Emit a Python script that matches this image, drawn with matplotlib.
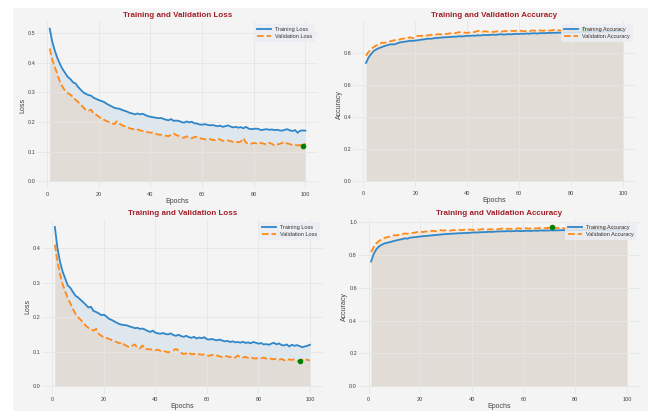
import matplotlib
matplotlib.use("Agg")
import matplotlib.pyplot as plt
from matplotlib.patches import Rectangle

plt.rcParams['font.family'] = ['Liberation Sans', 'DejaVu Sans']

epochs = list(range(1, 101))

train_loss_1 = [
    0.515, 0.470, 0.440, 0.415, 0.395, 0.378, 0.365, 0.352, 0.345, 0.334,
    0.330, 0.318, 0.309, 0.300, 0.295, 0.291, 0.289, 0.282, 0.278, 0.274,
    0.271, 0.268, 0.262, 0.257, 0.253, 0.248, 0.246, 0.245, 0.241, 0.238,
    0.235, 0.231, 0.229, 0.226, 0.229, 0.226, 0.228, 0.224, 0.220, 0.218,
    0.216, 0.215, 0.213, 0.214, 0.211, 0.208, 0.206, 0.210, 0.204, 0.205,
    0.204, 0.200, 0.198, 0.202, 0.199, 0.201, 0.196, 0.195, 0.192, 0.191,
    0.193, 0.191, 0.189, 0.190, 0.188, 0.186, 0.188, 0.184, 0.186, 0.189,
    0.185, 0.182, 0.184, 0.181, 0.183, 0.179, 0.184, 0.178, 0.176, 0.177,
    0.178, 0.176, 0.173, 0.175, 0.176, 0.174, 0.175, 0.173, 0.174, 0.172,
    0.171, 0.174, 0.176, 0.172, 0.170, 0.173, 0.164, 0.171, 0.172, 0.171]
val_loss_1 = [
    0.448, 0.410, 0.385, 0.360, 0.335, 0.318, 0.305, 0.298, 0.292, 0.285,
    0.275, 0.268, 0.259, 0.250, 0.240, 0.238, 0.242, 0.228, 0.225, 0.218,
    0.212, 0.208, 0.203, 0.200, 0.196, 0.193, 0.203, 0.195, 0.189, 0.186,
    0.183, 0.179, 0.176, 0.178, 0.175, 0.172, 0.170, 0.168, 0.166, 0.164,
    0.165, 0.161, 0.158, 0.157, 0.155, 0.154, 0.152, 0.158, 0.162, 0.156,
    0.153, 0.149, 0.147, 0.152, 0.148, 0.145, 0.150, 0.149, 0.146, 0.144,
    0.142, 0.141, 0.143, 0.140, 0.139, 0.144, 0.141, 0.137, 0.135, 0.138,
    0.136, 0.133, 0.135, 0.132, 0.134, 0.146, 0.131, 0.126, 0.127, 0.130,
    0.128, 0.131, 0.129, 0.127, 0.124, 0.130, 0.127, 0.121, 0.125, 0.126,
    0.130, 0.132, 0.128, 0.126, 0.122, 0.124, 0.121, 0.123, 0.118, 0.128]

train_acc_1 = [
    0.735, 0.770, 0.792, 0.810, 0.820, 0.828, 0.834, 0.840, 0.845, 0.850,
    0.852, 0.851, 0.858, 0.863, 0.866, 0.868, 0.871, 0.874, 0.873, 0.875,
    0.877, 0.880, 0.882, 0.884, 0.887, 0.886, 0.889, 0.891, 0.892, 0.894,
    0.895, 0.896, 0.897, 0.898, 0.899, 0.900, 0.902, 0.901, 0.903, 0.905,
    0.904, 0.906, 0.905, 0.908, 0.907, 0.909, 0.910, 0.909, 0.911, 0.912,
    0.911, 0.913, 0.915, 0.912, 0.914, 0.915, 0.914, 0.916, 0.917, 0.916,
    0.918, 0.917, 0.919, 0.918, 0.920, 0.921, 0.919, 0.921, 0.922, 0.921,
    0.923, 0.922, 0.924, 0.923, 0.925, 0.924, 0.926, 0.925, 0.926, 0.927,
    0.926, 0.928, 0.927, 0.929, 0.928, 0.930, 0.929, 0.930, 0.931, 0.930,
    0.932, 0.931, 0.932, 0.933, 0.932, 0.934, 0.933, 0.934, 0.935, 0.934]
val_acc_1 = [
    0.780, 0.805, 0.822, 0.835, 0.845, 0.850, 0.862, 0.860, 0.866, 0.870,
    0.873, 0.878, 0.876, 0.882, 0.886, 0.889, 0.891, 0.896, 0.889, 0.899,
    0.905, 0.904, 0.906, 0.905, 0.908, 0.911, 0.909, 0.913, 0.915, 0.914,
    0.918, 0.916, 0.919, 0.921, 0.920, 0.924, 0.928, 0.922, 0.925, 0.923,
    0.926, 0.927, 0.929, 0.935, 0.937, 0.931, 0.933, 0.930, 0.932, 0.929,
    0.931, 0.934, 0.930, 0.933, 0.935, 0.932, 0.936, 0.934, 0.937, 0.938,
    0.935, 0.933, 0.936, 0.934, 0.938, 0.937, 0.935, 0.939, 0.936, 0.938,
    0.940, 0.937, 0.941, 0.943, 0.940, 0.938, 0.936, 0.939, 0.941, 0.938,
    0.942, 0.944, 0.946, 0.948, 0.950, 0.947, 0.945, 0.948, 0.946, 0.944,
    0.947, 0.945, 0.949, 0.946, 0.948, 0.944, 0.947, 0.946, 0.945, 0.947]

train_loss_2 = [
    0.461, 0.400, 0.360, 0.332, 0.312, 0.292, 0.285, 0.273, 0.262, 0.257,
    0.250, 0.243, 0.236, 0.228, 0.230, 0.218, 0.215, 0.211, 0.206, 0.207,
    0.202, 0.195, 0.192, 0.188, 0.184, 0.180, 0.178, 0.177, 0.176, 0.173,
    0.171, 0.168, 0.169, 0.166, 0.167, 0.164, 0.160, 0.157, 0.161, 0.155,
    0.153, 0.152, 0.154, 0.151, 0.150, 0.153, 0.148, 0.146, 0.149, 0.145,
    0.143, 0.146, 0.142, 0.140, 0.143, 0.138, 0.141, 0.139, 0.142, 0.136,
    0.135, 0.137, 0.134, 0.133, 0.135, 0.132, 0.130, 0.131, 0.128, 0.130,
    0.127, 0.128, 0.126, 0.129, 0.125, 0.127, 0.124, 0.128, 0.126, 0.123,
    0.125, 0.121, 0.122, 0.120, 0.123, 0.126, 0.121, 0.124, 0.119, 0.118,
    0.121, 0.115, 0.120, 0.117, 0.119, 0.116, 0.113, 0.115, 0.117, 0.120]
val_loss_2 = [
    0.410, 0.360, 0.325, 0.295, 0.275, 0.255, 0.240, 0.224, 0.210, 0.200,
    0.192, 0.185, 0.175, 0.169, 0.166, 0.161, 0.166, 0.152, 0.146, 0.142,
    0.140, 0.137, 0.134, 0.130, 0.128, 0.124, 0.127, 0.120, 0.116, 0.113,
    0.117, 0.121, 0.112, 0.110, 0.118, 0.107, 0.108, 0.106, 0.107, 0.104,
    0.106, 0.102, 0.103, 0.100, 0.098, 0.101, 0.104, 0.108, 0.103, 0.097,
    0.093, 0.095, 0.098, 0.092, 0.094, 0.090, 0.093, 0.091, 0.092, 0.089,
    0.088, 0.091, 0.087, 0.089, 0.086, 0.085, 0.088, 0.086, 0.084, 0.087,
    0.083, 0.089, 0.084, 0.083, 0.085, 0.082, 0.084, 0.081, 0.080, 0.082,
    0.081, 0.083, 0.080, 0.082, 0.079, 0.078, 0.080, 0.077, 0.079, 0.075,
    0.078, 0.077, 0.076, 0.078, 0.074, 0.072, 0.076, 0.079, 0.076, 0.075]

train_acc_2 = [
    0.761, 0.807, 0.835, 0.852, 0.862, 0.870, 0.874, 0.878, 0.882, 0.887,
    0.890, 0.894, 0.897, 0.902, 0.900, 0.906, 0.908, 0.909, 0.911, 0.913,
    0.915, 0.916, 0.918, 0.919, 0.921, 0.922, 0.924, 0.925, 0.927, 0.928,
    0.929, 0.930, 0.931, 0.932, 0.933, 0.933, 0.935, 0.934, 0.936, 0.937,
    0.938, 0.938, 0.939, 0.940, 0.940, 0.941, 0.942, 0.941, 0.943, 0.944,
    0.944, 0.945, 0.945, 0.946, 0.945, 0.946, 0.947, 0.947, 0.946, 0.947,
    0.948, 0.948, 0.947, 0.949, 0.948, 0.949, 0.950, 0.949, 0.950, 0.950,
    0.951, 0.950, 0.951, 0.951, 0.952, 0.951, 0.952, 0.952, 0.951, 0.952,
    0.953, 0.952, 0.953, 0.953, 0.952, 0.953, 0.954, 0.953, 0.954, 0.954,
    0.953, 0.954, 0.955, 0.954, 0.955, 0.955, 0.954, 0.955, 0.956, 0.955]
val_acc_2 = [
    0.818, 0.850, 0.872, 0.885, 0.895, 0.903, 0.908, 0.912, 0.917, 0.921,
    0.920, 0.925, 0.927, 0.932, 0.930, 0.933, 0.935, 0.937, 0.941, 0.943,
    0.940, 0.944, 0.942, 0.946, 0.948, 0.945, 0.950, 0.952, 0.949, 0.951,
    0.948, 0.950, 0.953, 0.951, 0.954, 0.952, 0.955, 0.953, 0.956, 0.954,
    0.953, 0.956, 0.955, 0.958, 0.957, 0.955, 0.958, 0.956, 0.959, 0.957,
    0.960, 0.962, 0.958, 0.961, 0.959, 0.962, 0.960, 0.963, 0.961, 0.962,
    0.964, 0.961, 0.963, 0.965, 0.962, 0.964, 0.966, 0.963, 0.965, 0.966,
    0.971, 0.964, 0.966, 0.963, 0.965, 0.962, 0.964, 0.966, 0.963, 0.965,
    0.964, 0.966, 0.963, 0.965, 0.967, 0.964, 0.966, 0.965, 0.963, 0.966,
    0.964, 0.967, 0.965, 0.963, 0.966, 0.964, 0.967, 0.965, 0.966, 0.968]

BG = "#f4f4f4"
BLUE = "#2f86c9"
ORANGE = "#ff8a1c"
TITLE_RED = "#a3202a"


def drawPanel(ax, train, val, kind, best):
    ax.set_facecolor(BG)
    ax.fill_between(epochs, train, color="#1f77b4", alpha=0.1, linewidth=0)
    ax.fill_between(epochs, val, color="#ff7f0e", alpha=0.1, linewidth=0)
    ax.plot(epochs, train, color=BLUE, lw=1.3, label=f"Training {kind}")
    ax.plot(epochs, val, color=ORANGE, lw=1.3, ls="--", label=f"Validation {kind}")
    if best == "min":
        i = val.index(min(val))
    else:
        i = val.index(max(val))
    ax.plot(epochs[i], val[i], "o", color="green", ms=3, zorder=5)
    ax.set_title(f"Training and Validation {kind}", fontsize=5.8, fontweight="bold",
                 color=TITLE_RED, pad=3)
    ax.set_xlabel("Epochs", fontsize=5, color="#444444", labelpad=1)
    ax.set_ylabel(kind, fontsize=5, color="#444444", labelpad=1)
    ax.set_xticks([0, 20, 40, 60, 80, 100])
    ax.tick_params(labelsize=4, colors="#444444", length=0, pad=2)
    ax.tick_params(axis="y", pad=1)
    ax.grid(True, color="#e6e6e6", lw=0.6)
    for s in ax.spines.values():
        s.set_visible(False)
    leg = ax.legend(loc="upper right", fontsize=4, frameon=True, framealpha=0.85,
                    facecolor="#eceef3", edgecolor="none", handlelength=2.5,
                    borderpad=0.5, labelspacing=0.5)
    for t in leg.get_texts():
        t.set_color("#333333")


fig = plt.figure(figsize=(6.48, 4.11), dpi=100)
fig.patch.set_facecolor(BG)

ax1 = fig.add_axes([0.057, 0.540, 0.434, 0.409])
ax2 = fig.add_axes([0.545, 0.542, 0.436, 0.407])
ax3 = fig.add_axes([0.065, 0.041, 0.433, 0.426])
ax4 = fig.add_axes([0.553, 0.041, 0.434, 0.426])

drawPanel(ax1, train_loss_1, val_loss_1, "Loss", "min")
drawPanel(ax2, train_acc_1, val_acc_1, "Accuracy", "max")
drawPanel(ax3, train_loss_2, val_loss_2, "Loss", "min")
drawPanel(ax4, train_acc_2, val_acc_2, "Accuracy", "max")

fig.patches.append(Rectangle((0, 0.983), 1, 0.017, transform=fig.transFigure,
                             color="white", zorder=-1))
fig.patches.append(Rectangle((0, 0), 0.0185, 1, transform=fig.transFigure,
                             color="white", zorder=-1))

fig.savefig("out.png", dpi=100, facecolor=fig.get_facecolor())
